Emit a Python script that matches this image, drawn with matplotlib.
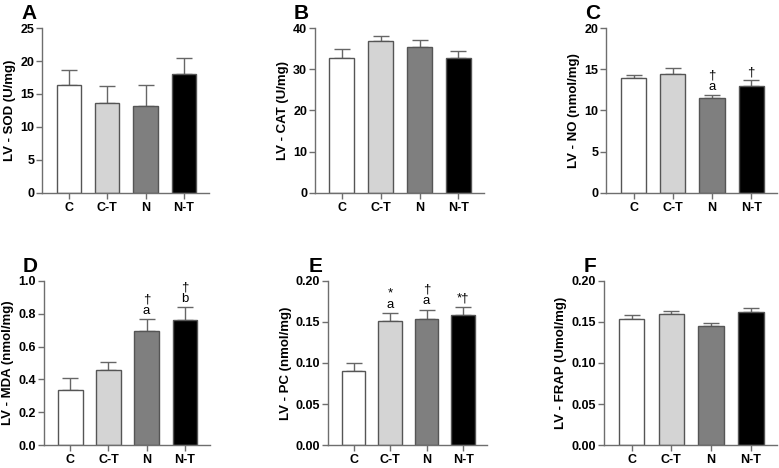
import matplotlib.pyplot as plt

plt.rcParams['font.family'] = ['Liberation Sans', 'DejaVu Sans']

groups = ['C', 'C-T', 'N', 'N-T']
colors = ['#ffffff', '#d4d4d4', '#7f7f7f', '#000000']

# panel data: mean, upper error (SEM)
sod = [16.3, 13.6, 13.2, 18.0]
sod_err = [2.4, 2.6, 3.1, 2.5]
cat = [32.7, 36.8, 35.4, 32.8]
cat_err = [2.1, 1.2, 1.8, 1.6]
no = [13.9, 14.4, 11.5, 13.0]
no_err = [0.35, 0.8, 0.4, 0.65]
mda = [0.338, 0.455, 0.696, 0.759]
mda_err = [0.070, 0.052, 0.071, 0.080]
pc = [0.0897, 0.151, 0.154, 0.158]
pc_err = [0.010, 0.010, 0.011, 0.010]
frap = [0.153, 0.159, 0.145, 0.1626]
frap_err = [0.005, 0.004, 0.004, 0.004]

panels = [
    ('A', sod, sod_err, 'LV - SOD (U/mg)', [0, 5, 10, 15, 20, 25], ['', '', '', ''],
     '{:.0f}', [0.054, 0.588, 0.214, 0.352]),
    ('B', cat, cat_err, 'LV - CAT (U/mg)', [0, 10, 20, 30, 40], ['', '', '', ''],
     '{:.0f}', [0.404, 0.588, 0.217, 0.352]),
    ('C', no, no_err, 'LV - NO (nmol/mg)', [0, 5, 10, 15, 20], ['', '', '\u2020\na', '\u2020'],
     '{:.0f}', [0.778, 0.588, 0.219, 0.352]),
    ('D', mda, mda_err, 'LV - MDA (nmol/mg)', [0, 0.2, 0.4, 0.6, 0.8, 1.0], ['', '', '\u2020\na', '\u2020\nb'],
     '{:.1f}', [0.056, 0.049, 0.213, 0.351]),
    ('E', pc, pc_err, 'LV - PC (nmol/mg)', [0, 0.05, 0.10, 0.15, 0.20], ['', '*\na', '\u2020\na', '*\u2020'],
     '{:.2f}', [0.421, 0.049, 0.204, 0.351]),
    ('F', frap, frap_err, 'LV - FRAP (Umol/mg)', [0, 0.05, 0.10, 0.15, 0.20], ['', '', '', ''],
     '{:.2f}', [0.775, 0.049, 0.222, 0.351]),
]

fig = plt.figure(figsize=(7.79, 4.68), dpi=100)
spine_col = '#6e6e6e'

for letter, vals, errs, ylab, yticks, marks, fmt, pos in panels:
    ax = fig.add_axes(pos)
    x = range(len(groups))
    ax.bar(x, vals, width=0.64, color=colors, edgecolor='#555555', linewidth=1.0, zorder=2)
    ax.errorbar(x, vals, yerr=[[0] * 4, errs], fmt='none', ecolor='#666666',
                elinewidth=1.0, capsize=6, capthick=1.0, zorder=1)
    ax.set_xlim(-0.7, 3.65)
    ax.set_ylim(0, yticks[-1])
    ax.set_yticks(yticks)
    ax.set_yticklabels([fmt.format(t) for t in yticks], fontweight='bold', fontsize=9)
    ax.set_xticks(list(x))
    ax.set_xticklabels(groups, fontweight='bold', fontsize=9)
    ax.set_ylabel(ylab, fontweight='bold', fontsize=9.5, labelpad=3)
    for s in ['top', 'right']:
        ax.spines[s].set_visible(False)
    for s in ['left', 'bottom']:
        ax.spines[s].set_color(spine_col)
        ax.spines[s].set_linewidth(1.0)
    ax.tick_params(axis='both', colors=spine_col, width=1.0, length=4, labelcolor='black')
    ax.tick_params(axis='x', length=4.5, pad=2)
    ax.tick_params(axis='y', pad=1.5)
    for i, m in enumerate(marks):
        if m:
            ax.annotate(m, xy=(i, vals[i] + errs[i]), xytext=(0, 1.5), textcoords='offset points',
                        ha='center', va='bottom', fontsize=9.5, linespacing=0.95)
    ax.text(-0.08, 1.03, letter, transform=ax.transAxes, fontsize=15, fontweight='bold',
            ha='center', va='bottom')

fig.savefig('out.png', dpi=100)
